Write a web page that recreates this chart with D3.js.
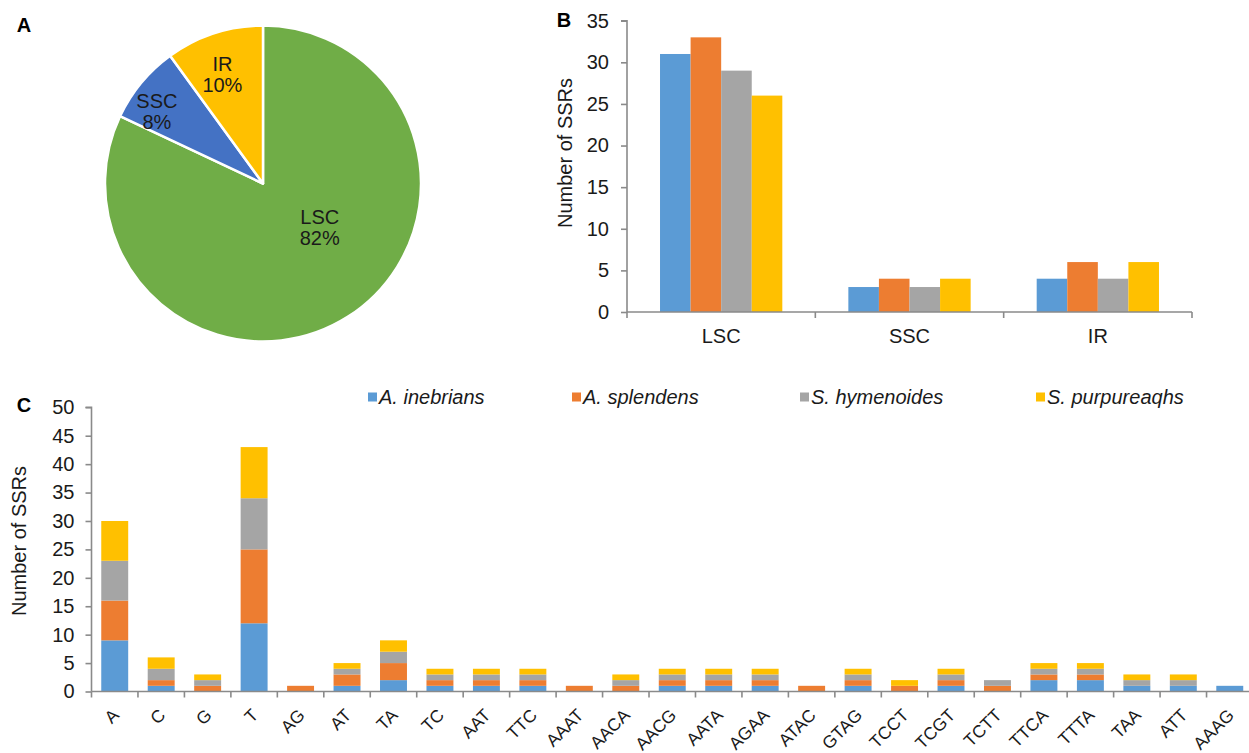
<!DOCTYPE html>
<html>
<head>
<meta charset="utf-8">
<script src="https://cdn.jsdelivr.net/npm/d3@7"></script>
<style>
  html, body { margin: 0; padding: 0; background: #fff; }
  svg { display: block; font-family: "Liberation Sans", Arial, sans-serif; }
</style>
</head>
<body>
<svg id="fig" width="1249" height="753"></svg>
<script>
// Panel A: share of SSRs by chloroplast region
const regions = ["LSC", "SSC", "IR"];
const regionShare = [82, 8, 10];

// Panel B: SSR counts per region for each species
const species = ["A. inebrians", "A. splendens", "S. hymenoides", "S. purpureaqhs"];
const regionCounts = {
  "A. inebrians":   [31, 3, 4],
  "A. splendens":   [33, 4, 6],
  "S. hymenoides":  [29, 3, 4],
  "S. purpureaqhs": [26, 4, 6]
};
const bTicks = [0, 5, 10, 15, 20, 25, 30, 35];

// Panel C: SSR counts per repeat motif, stacked by species
const motifs = ["A","C","G","T","AG","AT","TA","TC","AAT","TTC","AAAT","AACA","AACG",
                "AATA","AGAA","ATAC","GTAG","TCCT","TCGT","TCTT","TTCA","TTTA","TAA","ATT","AAAG"];
const inebrians   = [9, 1, 0, 12, 0, 1, 2, 1, 1, 1, 0, 0, 1, 1, 1, 0, 1, 0, 1, 0, 2, 2, 1, 1, 1];
const splendens   = [7, 1, 1, 13, 1, 2, 3, 1, 1, 1, 1, 1, 1, 1, 1, 1, 1, 1, 1, 1, 1, 1, 0, 0, 0];
const hymenoides  = [7, 2, 1, 9, 0, 1, 2, 1, 1, 1, 0, 1, 1, 1, 1, 0, 1, 0, 1, 1, 1, 1, 1, 1, 0];
const purpureaqhs = [7, 2, 1, 9, 0, 1, 2, 1, 1, 1, 0, 1, 1, 1, 1, 0, 1, 1, 1, 0, 1, 1, 1, 1, 0];
const cTicks = [0, 5, 10, 15, 20, 25, 30, 35, 40, 45, 50];

const pieColors = { LSC: "#70AD47", SSC: "#4472C4", IR: "#FFC000" };
const speciesColors = ["#5B9BD5", "#ED7D31", "#A5A5A5", "#FFC000"];
const axisColor = "#8a8a8a";
const textColor = "#1a1a1a";
const fontSize = 20;
const motifFontSize = 17.5;

const svg = d3.select("#fig");

function panelLetter(txt, x, y) {
  svg.append("text").attr("x", x).attr("y", y)
    .attr("font-size", 20).attr("font-weight", "bold").attr("fill", "#000")
    .attr("text-anchor", "middle").attr("dominant-baseline", "central").text(txt);
}

// ---------- Panel A: pie ----------
panelLetter("A", 24, 25);
{
  const cx = 263, cy = 183.5, r = 158;
  const g = svg.append("g").attr("transform", `translate(${cx},${cy})`);
  const pieData = regions.map((k, i) => ({ key: k, value: regionShare[i] }));
  const arcs = d3.pie().sort(null).value(d => d.value)(pieData);
  const arc = d3.arc().innerRadius(0).outerRadius(r);
  g.selectAll("path").data(arcs).join("path")
    .attr("d", arc)
    .attr("fill", d => pieColors[d.data.key])
    .attr("stroke", "#fff").attr("stroke-width", 2.5).attr("stroke-linejoin", "round");

  // label placement (polar: degrees clockwise from 12 o'clock, radius in px)
  const labelPolar = { LSC: [128, 72], SSC: [-56, 128], IR: [-20.5, 116] };
  arcs.forEach(d => {
    const [deg, rad] = labelPolar[d.data.key];
    const a = deg * Math.PI / 180;
    const lx = Math.sin(a) * rad, ly = -Math.cos(a) * rad;
    const t = g.append("text").attr("text-anchor", "middle")
      .attr("font-size", fontSize).attr("fill", textColor);
    t.append("tspan").attr("x", lx).attr("y", ly - 11).attr("dominant-baseline", "central").text(d.data.key);
    t.append("tspan").attr("x", lx).attr("y", ly + 10).attr("dominant-baseline", "central").text(d.data.value + "%");
  });
}

// ---------- Panel B: grouped bars ----------
panelLetter("B", 564, 20);
{
  const x0 = 627, x1 = 1192, y0 = 312, yTop = 20.7;
  const x = d3.scaleBand().domain(regions).range([x0, x1]).paddingInner(0).paddingOuter(0);
  const y = d3.scaleLinear().domain([0, 35]).range([y0, yTop]);
  const inner = d3.scaleBand().domain(species).range([0, x.bandwidth()]).paddingOuter(1.08).paddingInner(0);

  const groups = svg.append("g").selectAll("g").data(regions).join("g")
    .attr("transform", d => `translate(${x(d)},0)`);
  groups.selectAll("rect").data((reg, ri) => species.map((s, si) => ({ s, si, v: regionCounts[s][ri] })))
    .join("rect")
    .attr("x", d => inner(d.s)).attr("width", inner.bandwidth())
    .attr("y", d => y(d.v)).attr("height", d => y0 - y(d.v))
    .attr("fill", d => speciesColors[d.si]);

  // y axis
  const ya = svg.append("g").attr("transform", `translate(${x0},0)`)
    .call(d3.axisLeft(y).tickValues(bTicks).tickSize(6).tickPadding(12));
  ya.select(".domain").attr("stroke", axisColor).attr("stroke-width", 1.6).attr("d", `M-6,${yTop}H0V${y0}`);
  ya.selectAll(".tick line").attr("stroke", axisColor).attr("stroke-width", 1.6);
  ya.selectAll(".tick text").attr("font-size", fontSize).attr("fill", textColor)
    .attr("font-family", "Liberation Sans, Arial, sans-serif");

  // x axis with ticks between categories
  const xa = svg.append("g").attr("transform", `translate(0,${y0})`);
  xa.append("line").attr("x1", x0).attr("x2", x1).attr("y1", 0).attr("y2", 0)
    .attr("stroke", axisColor).attr("stroke-width", 1.6);
  const bounds = regions.map(r => x(r)).concat([x1]);
  xa.selectAll("line.tk").data(bounds).join("line").attr("class", "tk")
    .attr("x1", d => d).attr("x2", d => d).attr("y1", 0).attr("y2", 6)
    .attr("stroke", axisColor).attr("stroke-width", 1.6);
  xa.selectAll("text").data(regions).join("text")
    .attr("x", d => x(d) + x.bandwidth() / 2).attr("y", 24)
    .attr("text-anchor", "middle").attr("dominant-baseline", "central")
    .attr("font-size", fontSize).attr("fill", textColor).text(d => d);

  svg.append("text")
    .attr("transform", `translate(565,153) rotate(-90)`)
    .attr("text-anchor", "middle").attr("dominant-baseline", "central")
    .attr("font-size", fontSize).attr("fill", textColor).text("Number of SSRs");
}

// ---------- Panel C: stacked bars ----------
panelLetter("C", 24, 405);
{
  const x0 = 91.5, x1 = 1253, y0 = 691.5, yTop = 407.3;
  const x = d3.scaleBand().domain(motifs).range([x0, x1]).paddingInner(0.42).paddingOuter(0.21);
  const band = (x1 - x0) / motifs.length;
  const y = d3.scaleLinear().domain([0, 50]).range([y0, yTop]);

  const table = motifs.map((m, i) => ({
    motif: m,
    [species[0]]: inebrians[i], [species[1]]: splendens[i],
    [species[2]]: hymenoides[i], [species[3]]: purpureaqhs[i]
  }));
  const stacked = d3.stack().keys(species)(table);

  svg.append("g").selectAll("g").data(stacked).join("g")
    .attr("fill", (d, i) => speciesColors[i])
    .selectAll("rect").data(d => d.filter(s => s[1] > s[0])).join("rect")
    .attr("x", d => x(d.data.motif)).attr("width", x.bandwidth())
    .attr("y", d => y(d[1])).attr("height", d => y(d[0]) - y(d[1]));

  // y axis
  const ya = svg.append("g").attr("transform", `translate(${x0},0)`)
    .call(d3.axisLeft(y).tickValues(cTicks).tickSize(6).tickPadding(11));
  ya.select(".domain").attr("stroke", axisColor).attr("stroke-width", 1.6).attr("d", `M-6,${yTop}H0V${y0}`);
  ya.selectAll(".tick line").attr("stroke", axisColor).attr("stroke-width", 1.6);
  ya.selectAll(".tick text").attr("font-size", fontSize).attr("fill", textColor)
    .attr("font-family", "Liberation Sans, Arial, sans-serif");

  // x axis
  const xa = svg.append("g").attr("transform", `translate(0,${y0})`);
  xa.append("line").attr("x1", x0).attr("x2", x1).attr("y1", 0).attr("y2", 0)
    .attr("stroke", axisColor).attr("stroke-width", 1.6);
  const bounds = motifs.map((m, i) => x0 + i * band).concat([x1]);
  xa.selectAll("line.tk").data(bounds).join("line").attr("class", "tk")
    .attr("x1", d => d).attr("x2", d => d).attr("y1", 0).attr("y2", 6)
    .attr("stroke", axisColor).attr("stroke-width", 1.6);
  xa.selectAll("text").data(motifs).join("text")
    .attr("transform", d => `translate(${x(d) + x.bandwidth() / 2 + 1},${20.5}) rotate(-45)`)
    .attr("text-anchor", "end").attr("dominant-baseline", "central")
    .attr("font-size", motifFontSize).attr("fill", textColor).text(d => d);

  svg.append("text")
    .attr("transform", `translate(19,541) rotate(-90)`)
    .attr("text-anchor", "middle").attr("dominant-baseline", "central")
    .attr("font-size", fontSize).attr("fill", textColor).text("Number of SSRs");

  // legend
  const legendX = [368, 572, 800, 1036];
  const lg = svg.append("g").selectAll("g").data(species).join("g")
    .attr("transform", (d, i) => `translate(${legendX[i]},397)`);
  lg.append("rect").attr("x", 0).attr("y", -4.5).attr("width", 9).attr("height", 9)
    .attr("fill", (d, i) => speciesColors[i]);
  lg.append("text").attr("x", 11).attr("y", 0).attr("dominant-baseline", "central")
    .attr("font-size", fontSize).attr("font-style", "italic").attr("fill", textColor).text(d => d);
}
</script>
</body>
</html>
